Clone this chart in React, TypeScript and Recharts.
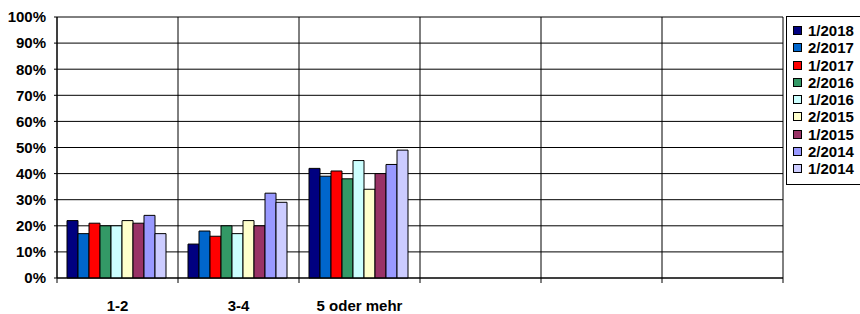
import { Bar, BarChart, CartesianGrid, Legend, XAxis, YAxis } from "recharts";

const categories = ["1-2", "3-4", "5 oder mehr", "", "", ""];

const series = ["1/2018", "2/2017", "1/2017", "2/2016", "1/2016", "2/2015", "1/2015", "2/2014", "1/2014"];

const colors = ["#000080", "#0066CC", "#FF0000", "#339966", "#CCFFFF", "#FFFFCC", "#993366", "#9999FF", "#CCCCFF"];

// one array per category group, in series order
const v12 = [22, 17, 21, 20, 20, 22, 21, 24, 17];
const v34 = [13, 18, 16, 20, 17, 22, 20, 32.5, 29];
const v5plus = [42, 39, 41, 38, 45, 34, 40, 43.5, 49];

const yTicks = [0, 10, 20, 30, 40, 50, 60, 70, 80, 90, 100];
const edgeTicks = [0, 1, 2, 3, 4, 5, 6];

const groups: (number[] | null)[] = [v12, v34, v5plus, null, null, null];

const data = categories.map((cat, i) => {
  const row: Record<string, unknown> = { cat, pos: i + 0.5 };
  series.forEach((s, j) => {
    row[s] = groups[i] ? groups[i]![j] : null;
  });
  return row;
});

const FONT = "'Liberation Sans', Arial, sans-serif";

function LegendBox() {
  return (
    <div
      style={{
        border: "1px solid #000",
        background: "#fff",
        width: 90,
        padding: "5px 0 7px 6px",
        boxSizing: "border-box",
        fontFamily: FONT,
        fontWeight: "bold",
        fontSize: 15,
      }}
    >
      {series.map((s, i) => (
        <div key={s} style={{ display: "flex", alignItems: "center", height: 17.25, lineHeight: "17px" }}>
          <span
            style={{
              display: "inline-block",
              width: 7,
              height: 7,
              flex: "none",
              background: colors[i],
              border: "1px solid #000",
              marginRight: 6,
            }}
          />
          <span style={{ color: "#000", whiteSpace: "nowrap" }}>{s}</span>
        </div>
      ))}
    </div>
  );
}

export default function App() {
  return (
    <div style={{ position: "fixed", left: 0, top: 0, width: 860, height: 314, background: "#fff", overflow: "hidden" }}>
      <BarChart
        width={860}
        height={314}
        data={data}
        margin={{ top: 17, right: 77, bottom: 0, left: 0 }}
        barCategoryGap={10}
        barGap={0}
      >
        <CartesianGrid stroke="#000" strokeWidth={1} />
        <XAxis
          xAxisId={0}
          dataKey="pos"
          type="number"
          domain={[0, 6]}
          ticks={edgeTicks}
          tickFormatter={() => ""}
          tickSize={5}
          height={7}
          interval={0}
          axisLine={{ stroke: "#000" }}
          tickLine={{ stroke: "#000" }}
        />
        <XAxis
          xAxisId="cat"
          dataKey="cat"
          type="category"
          axisLine={false}
          tickLine={false}
          height={29}
          interval={0}
          tick={{ fill: "#000", fontSize: 15, fontWeight: "bold", fontFamily: FONT, dy: 7 }}
        />
        <YAxis
          domain={[0, 100]}
          ticks={yTicks}
          width={57}
          interval={0}
          tickSize={3}
          tickMargin={8}
          tickFormatter={(v) => `${v}%`}
          axisLine={{ stroke: "#000" }}
          tickLine={{ stroke: "#000" }}
          tick={{ fill: "#000", fontSize: 15, fontWeight: "bold", fontFamily: FONT }}
        />
        {series.map((s, i) => (
          <Bar
            key={s}
            dataKey={s}
            xAxisId="cat"
            fill={colors[i]}
            stroke="#000"
            strokeWidth={1}
            isAnimationActive={false}
          />
        ))}
        <Legend
          layout="vertical"
          align="center"
          verticalAlign="middle"
          wrapperStyle={{ left: 786, top: 16, width: 90 }}
          content={() => <LegendBox />}
        />
      </BarChart>
    </div>
  );
}
